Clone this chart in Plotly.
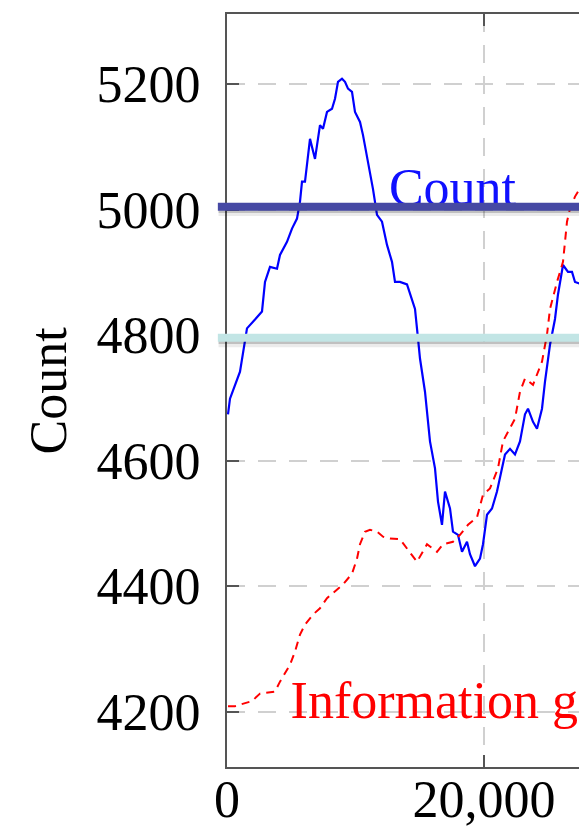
import plotly.graph_objects as go

# ---- data ----
count_x = [78, 233, 1012, 1556, 2179, 2724, 2957, 3346, 3891, 4124, 4669, 5058, 5447, 5681,
           5837, 6070, 6459, 6848, 7237, 7471, 7782, 8171, 8405, 8638, 8949, 9183, 9416, 9727,
           9961, 10350, 10584, 10973, 11362, 11673, 12062, 12451, 12840, 13074, 13463, 14008,
           14397, 14630, 14864, 15019, 15408, 15797, 16187, 16420, 16731, 16965, 17354, 17587,
           17977, 18288, 18677, 18910, 19299, 19688, 19922, 20233, 20622, 21011, 21401, 21634,
           22023, 22412, 22801, 23190, 23424, 23813, 24124, 24513, 24747, 25136, 25525, 25758,
           26148, 26537, 26848, 27082, 27800]
count_y = [4674, 4699, 4742, 4811, 4825, 4838, 4885, 4909, 4906, 4928, 4949, 4970, 4986, 5013,
           5045, 5045, 5113, 5081, 5135, 5129, 5156, 5161, 5177, 5204, 5209, 5204, 5193, 5188,
           5156, 5140, 5119, 5076, 5033, 4992, 4981, 4944, 4917, 4885, 4885, 4881,
           4854, 4842, 4795, 4763, 4710, 4631, 4588, 4535, 4498, 4551, 4524, 4487,
           4482, 4455, 4471, 4451, 4432, 4444, 4467, 4514, 4524, 4551, 4588, 4610,
           4619, 4610, 4631, 4674, 4683, 4662, 4651, 4683, 4726, 4785, 4826, 4865,
           4912, 4901, 4901, 4885, 4880]

ig_x = [78, 623, 1946, 2568, 3735, 4124, 4903, 5292, 5681, 6070, 6693, 7237, 7782, 8560, 9027,
        9727, 10117, 10350, 10739, 11129, 11673, 12140, 12684, 13463, 14008, 14786, 15564,
        16342, 16809, 17587, 18132, 18755, 19455, 19922, 20466, 21089, 21478, 22023, 22412,
        22801, 23190, 23813, 24202, 24513, 24902, 25136, 25681, 25914, 26148, 26459, 26693,
        27082, 27800]
ig_y = [4209, 4209, 4217, 4229, 4232, 4248, 4275, 4296, 4323, 4339, 4355, 4365, 4381, 4395, 4403,
        4420, 4444, 4467, 4487, 4490, 4487, 4479, 4476, 4475, 4460, 4439, 4467,
        4455, 4467, 4471, 4482, 4498, 4510, 4546, 4556, 4588, 4631, 4651, 4667,
        4710, 4731, 4721, 4742, 4758, 4801, 4842, 4885, 4901, 4917, 4981, 5002,
        5021, 5045]

y_tickvals = [4200, 4400, 4600, 4800, 5000, 5200]
x_tickvals = [0, 20000]
x_ticktext = ["0", "20,000"]
highlight_levels = [5005, 4796]
highlight_colors = ["#4649a4", "#c2e5e5"]
count_label = "Count"
ig_label = "Information gain"
axis_title = "Count"

FONT = "Liberation Serif"

fig = go.Figure()
fig.add_trace(go.Scatter(x=count_x, y=count_y, mode="lines",
                         line=dict(color="#0000ff", width=2.2), showlegend=False, hoverinfo="skip"))
fig.add_trace(go.Scatter(x=ig_x, y=ig_y, mode="lines",
                         line=dict(color="#ff0000", width=2, dash="8px,6px"),
                         showlegend=False, hoverinfo="skip"))
# in-plot labels
fig.add_trace(go.Scatter(x=[12600], y=[5029], mode="text", text=[count_label],
                         textposition="middle right",
                         textfont=dict(family=FONT, size=52, color="#1010ff"),
                         showlegend=False, hoverinfo="skip"))
fig.add_trace(go.Scatter(x=[4950], y=[4211], mode="text", text=[ig_label],
                         textposition="middle right",
                         textfont=dict(family=FONT, size=52, color="#ff0000"),
                         showlegend=False, hoverinfo="skip"))

shapes = []
for lvl, col in zip(highlight_levels, highlight_colors):
    shapes.append(dict(type="line", xref="paper", yref="y", x0=-0.024, x1=1.05,
                       y0=lvl - 7, y1=lvl - 7, layer="above",
                       line=dict(color="rgba(0,0,0,0.08)", width=10)))
    shapes.append(dict(type="line", xref="paper", yref="y", x0=-0.024, x1=1.05,
                       y0=lvl - 6, y1=lvl - 6, layer="above",
                       line=dict(color="rgba(0,0,0,0.18)", width=5)))
    shapes.append(dict(type="line", xref="paper", yref="y", x0=-0.026, x1=1.05,
                       y0=lvl, y1=lvl, layer="above",
                       line=dict(color=col, width=8)))

axis_common = dict(
    showline=True, linecolor="#555555", linewidth=2,
    ticks="inside", ticklen=12, tickcolor="#555555", tickwidth=2,
    showgrid=True, gridcolor="#d0d0d0", gridwidth=1.5, griddash="18px,13px",
    zeroline=False, automargin=False,
    tickfont=dict(family=FONT, size=52, color="black"),
)

fig.update_layout(
    width=579, height=829,
    margin=dict(l=227, r=0, t=14, b=62, autoexpand=False),
    paper_bgcolor="white", plot_bgcolor="white",
    shapes=shapes,
    xaxis=dict(range=[0, 27393], tickvals=x_tickvals, ticktext=x_ticktext,
               mirror="ticks", ticklabelstandoff=-14, **axis_common),
    yaxis=dict(range=[4112, 5312], tickvals=y_tickvals, mirror=False,
               ticklabelstandoff=14, **axis_common),
    annotations=[dict(text=axis_title, xref="paper", yref="paper", x=-0.506, y=0.50,
                      xanchor="center", yanchor="middle", textangle=-90, showarrow=False,
                      font=dict(family=FONT, size=52, color="black"))],
)

fig.write_html("out.html", config={"displayModeBar": False},
               post_script="document.body.style.margin='0px';document.body.style.overflow='hidden';")
